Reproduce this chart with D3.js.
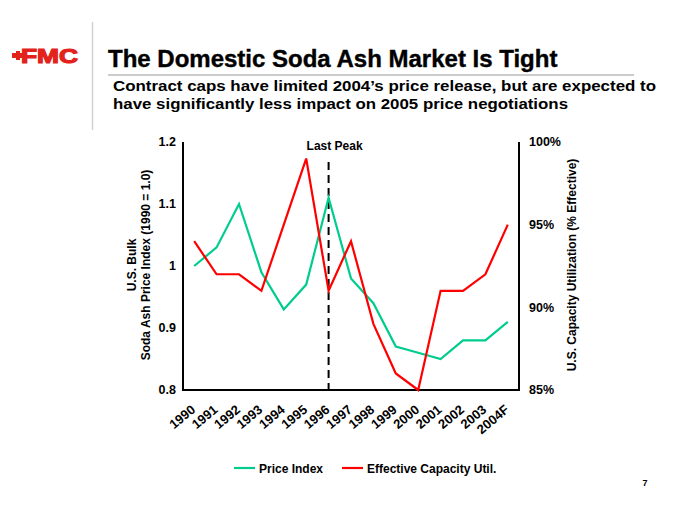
<!DOCTYPE html>
<html>
<head>
<meta charset="utf-8">
<script src="https://cdn.jsdelivr.net/npm/d3@7"></script>
<style>
html,body{margin:0;padding:0;background:#fff;}
svg{display:block;font-family:"Liberation Sans",Arial,sans-serif;}
</style>
</head>
<body>
<svg id="chart" width="680" height="510"></svg>
<script>
// ---- data ----
const years = ["1990","1991","1992","1993","1994","1995","1996","1997","1998","1999","2000","2001","2002","2003","2004F"];
const priceIndex = [1.00,1.03,1.10,0.99,0.93,0.97,1.11,0.98,0.94,0.87,0.86,0.85,0.88,0.88,0.91];
const capacityUtil = [94,92,92,91,95,99,91,94,89,86,85,91,91,92,95];
const leftTicks = [0.8,0.9,1.0,1.1,1.2];
const leftTickLabels = ["0.8","0.9","1","1.1","1.2"];
const rightTicks = [85,90,95,100];
const rightTickLabels = ["85%","90%","95%","100%"];
const peakYear = "1996";
const seriesNames = ["Price Index","Effective Capacity Util."];

const GREEN = "#00cc8e", RED = "#ff0000";
const svg = d3.select("#chart");

// layout
const L = 183, R = 519, T = 142, B = 390;

const x = d3.scalePoint().domain(years).range([L, R]).padding(0.5);
const yL = d3.scaleLinear().domain([0.8, 1.2]).range([B, T]);
const yR = d3.scaleLinear().domain([85, 100]).range([B, T]);

// ---- header ----
// logo
svg.append("rect").attr("x", 12).attr("y", 53).attr("width", 14).attr("height", 5).attr("fill", "#e3231b");
svg.append("rect").attr("x", 16).attr("y", 51).attr("width", 4).attr("height", 9).attr("fill", "#e3231b");
svg.append("text").attr("x", 21).attr("y", 62.5).attr("fill", "#e3231b")
  .attr("font-size", 20).attr("font-weight", 900).attr("textLength", 57).attr("lengthAdjust", "spacingAndGlyphs")
  .attr("stroke", "#e3231b").attr("stroke-width", 1.2)
  .text("FMC");
// vertical divider
svg.append("line").attr("x1", 92.5).attr("x2", 92.5).attr("y1", 22).attr("y2", 130)
  .attr("stroke", "#d0d0d0").attr("stroke-width", 1.5);
svg.append("text").attr("x", 108).attr("y", 67).attr("font-size", 24).attr("font-weight", "bold")
  .attr("fill", "#000").attr("stroke", "#000").attr("stroke-width", 0.4)
  .text("The Domestic Soda Ash Market Is Tight");
svg.append("line").attr("x1", 108).attr("x2", 634).attr("y1", 75).attr("y2", 75)
  .attr("stroke", "#cccccc").attr("stroke-width", 2);
svg.append("text").attr("x", 113).attr("y", 91).attr("font-size", 15.5).attr("font-weight", "bold")
  .attr("textLength", 543).attr("lengthAdjust", "spacingAndGlyphs")
  .text("Contract caps have limited 2004\u2019s price release, but are expected to");
svg.append("text").attr("x", 113).attr("y", 109).attr("font-size", 15.5).attr("font-weight", "bold")
  .attr("textLength", 455).attr("lengthAdjust", "spacingAndGlyphs")
  .text("have significantly less impact on 2005 price negotiations");

// ---- axes ----
const axisG = svg.append("g");
axisG.append("path").attr("d", `M${L},${T}V${B}H${R}V${T}`).attr("fill", "none")
  .attr("stroke", "#000").attr("stroke-width", 2);

// left tick labels
svg.append("g").selectAll("text").data(leftTicks).join("text")
  .attr("x", 176).attr("y", d => yL(d)).attr("dy", "0.35em").attr("text-anchor", "end")
  .attr("font-size", 12.5).attr("font-weight", "bold").text((d, i) => leftTickLabels[i]);
// right tick labels
svg.append("g").selectAll("text").data(rightTicks).join("text")
  .attr("x", 529).attr("y", d => yR(d)).attr("dy", "0.35em").attr("text-anchor", "start")
  .attr("font-size", 12.5).attr("font-weight", "bold").text((d, i) => rightTickLabels[i]);
// x labels
svg.append("g").selectAll("text").data(years).join("text")
  .attr("transform", d => `translate(${x(d) + 2},${B + 21}) rotate(-40)`)
  .attr("text-anchor", "end").attr("font-size", 13).attr("font-weight", "bold").text(d => d);

// axis titles
const lt = svg.append("text").attr("transform", `translate(138,265) rotate(-90)`)
  .attr("text-anchor", "middle").attr("font-size", 12).attr("font-weight", "bold");
lt.append("tspan").attr("x", 0).attr("dy", "-0.2em").text("U.S. Bulk");
lt.append("tspan").attr("x", 0).attr("dy", "1.2em").text("Soda Ash Price Index (1990 = 1.0)");
svg.append("text").attr("transform", `translate(576,265) rotate(-90)`)
  .attr("text-anchor", "middle").attr("font-size", 12).attr("font-weight", "bold")
  .text("U.S. Capacity Utilization (% Effective)");

// last peak marker
svg.append("line").attr("x1", x(peakYear)).attr("x2", x(peakYear)).attr("y1", 162).attr("y2", B)
  .attr("stroke", "#000").attr("stroke-width", 2).attr("stroke-dasharray", "8,5");
svg.append("text").attr("x", x(peakYear) + 6).attr("y", 150).attr("text-anchor", "middle")
  .attr("font-size", 12).attr("font-weight", "bold").text("Last Peak");

// ---- lines ----
const lineL = d3.line().x((d, i) => x(years[i])).y(d => yL(d));
const lineR = d3.line().x((d, i) => x(years[i])).y(d => yR(d));
svg.append("path").datum(priceIndex).attr("d", lineL).attr("fill", "none")
  .attr("stroke", GREEN).attr("stroke-width", 2.2);
svg.append("path").datum(capacityUtil).attr("d", lineR).attr("fill", "none")
  .attr("stroke", RED).attr("stroke-width", 2.2);

// ---- legend ----
const leg = [{x: 234, c: GREEN, t: seriesNames[0]}, {x: 342, c: RED, t: seriesNames[1]}];
const lg = svg.append("g").selectAll("g").data(leg).join("g");
lg.append("line").attr("x1", d => d.x).attr("x2", d => d.x + 21).attr("y1", 468).attr("y2", 468)
  .attr("stroke", d => d.c).attr("stroke-width", 2.2);
lg.append("text").attr("x", d => d.x + 25).attr("y", 472.5).attr("font-size", 12).attr("font-weight", "bold")
  .text(d => d.t);

// page number
svg.append("text").attr("x", 645).attr("y", 486).attr("text-anchor", "middle").attr("font-size", 9)
  .attr("font-weight", "bold").text("7");
</script>
</body>
</html>
